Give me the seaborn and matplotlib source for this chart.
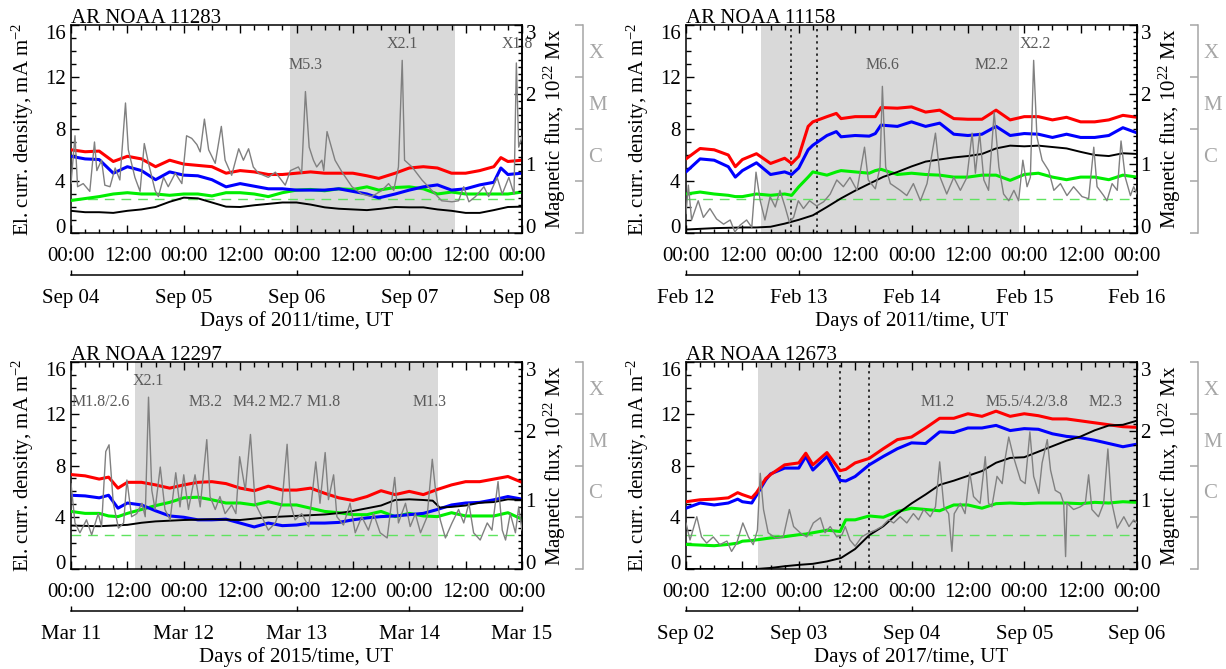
import matplotlib
matplotlib.use("Agg")
import matplotlib.pyplot as plt
import seaborn as sns
from matplotlib.ticker import MultipleLocator, FixedLocator, FixedFormatter, NullFormatter

# ---------------- data (hours from start of first day) ----------------
titles = ["AR NOAA 11283", "AR NOAA 11158", "AR NOAA 12297", "AR NOAA 12673"]
years = ["2011", "2011", "2015", "2017"]
day_labels = [["Sep 04", "Sep 05", "Sep 06", "Sep 07", "Sep 08"],
              ["Feb 12", "Feb 13", "Feb 14", "Feb 15", "Feb 16"],
              ["Mar 11", "Mar 12", "Mar 13", "Mar 14", "Mar 15"],
              ["Sep 02", "Sep 03", "Sep 04", "Sep 05", "Sep 06"]]
time_labels = ["00:00", "12:00", "00:00", "12:00", "00:00", "12:00", "00:00", "12:00", "00:00"]
threshold = 2.6  # mA m^-2

# --- panel 1: AR 11283 ---
t_cur1 = [0, 3, 6, 9, 12, 15, 18, 21, 24, 27, 30, 33, 36, 39, 42, 45, 48, 51, 54, 57, 60, 63, 65.5, 69, 72, 75, 78, 81, 84, 87, 90, 91.5, 93, 96]
red1 = [6.4, 6.25, 6.3, 5.5, 5.9, 5.7, 5.1, 5.6, 5.3, 5.2, 5.1, 4.6, 4.8, 4.7, 4.5, 4.5, 4.6, 4.7, 4.6, 4.6, 4.6, 4.4, 4.2, 4.6, 5.0, 5.1, 5.0, 4.6, 4.6, 4.8, 5.1, 5.8, 5.5, 5.6]
blue1 = [5.9, 5.7, 5.65, 4.6, 5.1, 4.8, 4.1, 4.7, 4.45, 4.4, 4.1, 3.55, 3.8, 3.6, 3.4, 3.4, 3.3, 3.3, 3.3, 3.4, 3.2, 3.0, 2.7, 3.0, 3.3, 3.55, 3.7, 3.3, 3.4, 3.7, 3.9, 5.0, 4.5, 4.6]
green1 = [2.5, 2.65, 2.8, 3.0, 3.1, 3.0, 3.0, 2.9, 3.0, 3.0, 2.85, 3.1, 3.1, 3.0, 2.8, 3.1, 3.3, 3.35, 3.25, 3.4, 3.35, 3.55, 3.3, 3.5, 3.55, 3.4, 3.0, 3.15, 3.0, 3.0, 3.0, 3.0, 3.0, 3.15]
t_flux1 = [0, 3, 6, 9, 12, 15, 18, 21, 24, 27, 30, 33, 36, 39, 42, 45, 48, 51, 54, 57, 60, 63, 66, 69, 72, 75, 78, 81, 84, 87, 90, 93, 96]
flux1 = [0.32, 0.30, 0.30, 0.29, 0.32, 0.34, 0.375, 0.45, 0.51, 0.50, 0.44, 0.38, 0.375, 0.40, 0.42, 0.44, 0.44, 0.41, 0.37, 0.35, 0.34, 0.33, 0.35, 0.375, 0.37, 0.37, 0.34, 0.32, 0.29, 0.29, 0.33, 0.375, 0.38]
t_goes1 = [0, 0.85, 1.4, 2.6, 4, 5, 5.5, 6.5, 7.2, 8.3, 9.4, 10.4, 11.6, 12.2, 13.6, 14.7, 15.6, 16.5, 17.9, 18.6, 19.7, 20.7, 22.2, 23.6, 24.6, 25.7, 26.8, 27.5, 28.4, 29.3, 30.7, 32, 32.8, 34.2, 35.7, 36.7, 37.8, 38.8, 39.9, 42, 43.5, 45.6, 46.7, 48.4, 49.1, 49.9, 50.7, 51.6, 52.3, 53.4, 53.8, 54.5, 56.2, 57.7, 59.8, 61.9, 64, 66.2, 67.6, 68.7, 69.7, 70.5, 71, 72.6, 74.7, 76.8, 78.9, 81.1, 82.5, 83.6, 84.7, 86.1, 87.9, 88.9, 90.7, 91.8, 93.2, 94.3, 94.8, 95.3, 96]
goes1 = [-6.05, -5.13, -6.11, -6.05, -6.2, -5.25, -5.8, -5.6, -6.08, -6.11, -5.75, -5.98, -4.5, -5.4, -5.93, -6.2, -5.28, -5.66, -6.18, -6.3, -5.93, -6.11, -5.85, -6.05, -5.13, -5.18, -5.3, -5.44, -4.81, -5.4, -5.66, -4.95, -5.6, -5.89, -5.38, -5.6, -5.38, -5.73, -5.85, -5.93, -5.83, -6.08, -5.8, -5.73, -5.85, -4.28, -5.35, -5.6, -5.73, -5.6, -5.8, -5.05, -5.6, -5.83, -6.11, -6.25, -6.3, -6.18, -6.05, -6.18, -5.73, -3.68, -5.6, -5.73, -5.98, -6.18, -6.38, -6.4, -6.38, -6.11, -6.4, -6.3, -6.11, -6.3, -5.93, -6.25, -5.93, -6.25, -3.73, -5.35, -5.15]
shade1 = [46.7, 81.8]
dotted1 = []
flare_names1 = ["M5.3", "X2.1", "X1.8"]
flare_times1 = [50.0, 70.6, 94.9]
flare_rows1 = [0, 1, 1]

# --- panel 2: AR 11158 ---
t_cur2 = [0, 3, 6, 9, 10.5, 12, 15, 18, 21, 22.5, 24, 26, 27, 30, 32, 33, 36, 39, 40.3, 41.5, 45, 48, 51, 54, 57, 60, 63, 66, 69, 72, 75, 78, 81, 84, 87, 90, 93, 96]
red2 = [5.7, 6.5, 6.4, 6.0, 5.1, 5.65, 6.1, 5.35, 5.75, 5.35, 5.9, 8.2, 8.55, 8.95, 9.2, 8.8, 8.95, 8.95, 8.95, 9.65, 9.6, 9.7, 9.3, 9.45, 8.8, 8.75, 8.75, 9.45, 8.7, 8.95, 8.95, 8.7, 8.9, 8.55, 8.55, 8.7, 9.05, 8.9]
blue2 = [4.7, 5.7, 5.6, 5.1, 4.3, 4.8, 5.4, 4.5, 4.7, 4.5, 5.0, 6.4, 6.75, 7.5, 7.8, 7.4, 7.5, 7.45, 7.65, 8.3, 8.2, 8.55, 8.2, 8.45, 7.6, 7.5, 7.6, 8.2, 7.5, 7.65, 7.6, 7.35, 7.6, 7.35, 7.35, 7.5, 8.1, 7.7]
green2 = [3.0, 3.15, 3.0, 2.9, 2.8, 2.8, 3.0, 2.9, 3.0, 2.9, 3.55, 4.3, 4.7, 4.45, 4.7, 4.8, 4.7, 4.6, 4.8, 4.9, 4.5, 4.6, 4.5, 4.45, 4.3, 4.3, 4.45, 4.45, 4.05, 4.5, 4.6, 4.3, 4.1, 4.3, 4.3, 4.1, 4.45, 4.3]
t_flux2 = [0, 6, 12, 15, 18, 21, 24, 27, 30, 33, 36, 39, 42, 45, 48, 51, 54, 57, 60, 63, 66, 69, 72, 75, 78, 81, 84, 87, 90, 93, 96]
flux2 = [0.05, 0.07, 0.08, 0.08, 0.09, 0.135, 0.19, 0.255, 0.375, 0.50, 0.61, 0.71, 0.81, 0.88, 0.96, 1.03, 1.06, 1.09, 1.11, 1.14, 1.22, 1.26, 1.25, 1.26, 1.24, 1.22, 1.17, 1.125, 1.11, 1.15, 1.14]
t_goes2 = [0, 0.5, 1.2, 2.6, 3.7, 5.1, 6.5, 8, 9.4, 10.4, 11.5, 12.9, 14, 14.9, 15.8, 16.8, 17.9, 19, 20, 21.1, 22, 22.9, 23.9, 25, 26.3, 27.8, 29.3, 30.7, 32.1, 33.5, 34.9, 36.4, 38, 38.8, 40.3, 41.3, 41.8, 42.5, 43.5, 45.6, 47, 48.4, 49.9, 51.3, 53.1, 54.1, 55.5, 57, 58.4, 59.8, 60.9, 61.6, 62.5, 63.4, 64.4, 65.6, 66.6, 67.6, 68.7, 69.8, 70.8, 71.7, 72.6, 73.3, 74, 74.7, 75.8, 77.2, 78.3, 79.7, 81.1, 82.5, 84.3, 85.7, 86.8, 87.5, 88.9, 89.6, 90.7, 91.8, 92.6, 93.5, 94.6, 95.3, 96]
goes2 = [-6.63, -6.08, -6.75, -6.38, -6.7, -6.53, -6.73, -6.83, -6.75, -6.98, -6.85, -6.75, -6.89, -5.83, -6.38, -6.75, -6.3, -6.5, -6.18, -6.5, -6.79, -6.7, -6.38, -6.53, -6.38, -6.48, -6.4, -6.25, -5.98, -6.11, -5.93, -6.18, -5.35, -5.98, -6.15, -5.73, -4.18, -5.73, -6.05, -6.18, -6.28, -6.05, -6.38, -6.05, -5.08, -5.93, -6.25, -5.93, -6.18, -5.93, -5.08, -5.85, -5.08, -5.98, -6.18, -4.68, -5.73, -6.25, -6.38, -6.18, -6.38, -5.6, -6.11, -5.93, -3.68, -5.15, -5.6, -5.8, -6.18, -6.05, -6.28, -6.11, -6.3, -6.34, -5.35, -6.11, -6.28, -6.38, -6.05, -6.18, -5.23, -5.93, -6.28, -6.11, -6.25]
shade2 = [16.0, 70.8]
dotted2 = [22.3, 27.8]
flare_names2 = ["M6.6", "M2.2", "X2.2"]
flare_times2 = [41.8, 65.1, 74.4]
flare_rows2 = [0, 0, 1]

# --- panel 3: AR 12297 ---
t_cur3 = [0, 3, 6, 8, 10, 12, 15, 18, 21, 24, 27, 30, 33, 36, 39, 42, 45, 48, 51, 54, 57, 60, 63, 66, 69, 72, 75, 78, 81, 84, 87, 90, 93, 96]
red3 = [7.3, 7.2, 6.95, 7.1, 6.25, 6.7, 6.7, 6.5, 6.25, 6.5, 6.7, 6.75, 6.6, 6.25, 6.05, 6.4, 6.1, 6.1, 6.25, 5.85, 5.5, 5.3, 5.6, 6.05, 5.75, 6.0, 5.75, 6.15, 6.5, 6.75, 6.75, 6.95, 7.15, 6.7]
blue3 = [5.7, 5.65, 5.5, 5.7, 4.7, 5.1, 4.95, 4.5, 4.1, 4.0, 3.8, 3.8, 3.85, 3.55, 3.25, 3.55, 3.35, 3.4, 3.55, 3.55, 3.6, 3.8, 3.95, 4.05, 4.1, 4.2, 4.3, 4.6, 4.95, 5.1, 5.15, 5.35, 5.6, 5.4]
green3 = [4.45, 4.3, 4.3, 4.1, 4.05, 4.3, 4.6, 4.9, 5.15, 5.5, 5.55, 5.35, 5.1, 5.1, 4.95, 5.2, 4.95, 4.95, 4.7, 4.45, 4.35, 4.2, 4.2, 4.45, 4.05, 4.3, 4.1, 4.05, 4.35, 4.1, 4.1, 4.1, 4.35, 3.85]
t_flux3 = [0, 6, 12, 15, 18, 24, 30, 36, 42, 48, 54, 57, 60, 63, 66, 69, 72, 75, 77, 78.5, 81, 84, 87, 90, 93, 96]
flux3 = [0.63, 0.62, 0.64, 0.67, 0.69, 0.71, 0.72, 0.71, 0.75, 0.77, 0.79, 0.81, 0.84, 0.88, 0.92, 1.0, 1.01, 1.0, 0.99, 0.89, 0.90, 0.92, 0.96, 0.97, 1.01, 1.0]
t_goes3 = [0, 0.85, 1.9, 3.3, 4.4, 5.8, 6.5, 7.4, 8.1, 9, 10.1, 11.2, 11.9, 12.9, 14, 15.1, 15.8, 16.5, 17.2, 17.9, 19, 20, 21.1, 22.3, 23.2, 24, 25, 26.4, 27.5, 28.9, 29.6, 30.7, 31.7, 32.8, 34.2, 35.1, 35.9, 37.1, 38.2, 39.2, 40.6, 42, 43.5, 44.9, 46, 46.7, 47.7, 49.1, 50.6, 52.1, 53, 54.1, 54.8, 55.9, 56.6, 58, 59.4, 60.5, 61.9, 63.3, 64.4, 65.8, 67.3, 68.9, 69.7, 71.2, 72.2, 73.3, 74.4, 75.8, 76.9, 77.6, 78.6, 79.7, 81.1, 82.5, 83.6, 84.7, 85.7, 87.1, 88.6, 89.6, 90.9, 91.8, 92.5, 93.5, 94.6, 95.3, 96]
goes3 = [-5.35, -6.11, -6.3, -6.05, -6.34, -5.93, -6.18, -4.73, -4.6, -5.73, -6.21, -6.11, -5.28, -5.99, -5.93, -5.73, -5.99, -3.68, -5.48, -5.85, -5.03, -5.85, -6.05, -5.14, -5.8, -5.18, -5.85, -5.18, -5.8, -4.5, -5.6, -5.85, -5.6, -5.93, -5.76, -5.93, -4.83, -5.48, -4.4, -5.73, -5.99, -6.25, -6.11, -5.73, -4.59, -5.73, -6.05, -5.93, -6.18, -4.93, -5.73, -4.75, -5.66, -5.18, -5.99, -6.15, -5.73, -6.3, -5.99, -6.25, -5.93, -6.3, -6.4, -5.23, -6.11, -5.73, -6.18, -5.93, -6.3, -5.99, -4.88, -5.48, -6.05, -6.4, -6.11, -5.85, -6.11, -5.73, -6.3, -6.44, -6.11, -6.25, -5.31, -6.25, -6.44, -5.93, -6.3, -5.8, -6.25]
shade3 = [13.6, 78.1]
dotted3 = []
flare_names3 = ["M1.8/2.6", "X2.1", "M3.2", "M4.2", "M2.7", "M1.8", "M1.3"]
flare_times3 = [6.3, 16.5, 28.6, 38.1, 45.7, 53.8, 76.4]
flare_rows3 = [0, 1, 0, 0, 0, 0, 0]

# --- panel 4: AR 12673 ---
t_cur4 = [0, 3, 6, 9, 11, 12, 14, 15, 17, 18, 21, 24, 25.5, 27, 30, 32.8, 34, 36, 39, 42, 45, 48, 51, 54, 57, 60, 63, 66, 69, 72, 75, 78, 81, 84, 87, 90, 93, 96]
red4 = [5.2, 5.35, 5.4, 5.5, 5.9, 5.75, 5.5, 5.9, 7.0, 7.3, 8.05, 8.2, 8.95, 8.05, 9.0, 7.6, 7.7, 8.2, 8.55, 9.3, 10.0, 10.2, 10.9, 11.65, 11.65, 12.0, 11.8, 12.2, 11.8, 12.0, 11.85, 11.6, 11.6, 11.45, 11.3, 11.15, 11.0, 10.95]
blue4 = [4.7, 5.1, 4.95, 5.1, 5.4, 5.2, 5.1, 5.7, 6.9, 7.35, 7.8, 7.8, 8.7, 7.65, 8.7, 6.85, 6.8, 7.15, 8.05, 8.7, 9.3, 9.75, 9.7, 10.6, 10.55, 10.9, 10.9, 11.1, 10.7, 10.85, 10.8, 10.45, 10.25, 10.15, 9.95, 9.7, 9.45, 9.65]
green4 = [1.9, 1.85, 1.8, 1.9, 2.0, 2.15, 2.2, 2.25, 2.35, 2.4, 2.5, 2.65, 2.7, 2.8, 3.0, 2.9, 3.8, 3.8, 4.1, 4.0, 4.45, 4.7, 4.6, 4.5, 4.95, 4.95, 4.7, 5.05, 5.1, 5.05, 5.1, 5.1, 5.1, 5.05, 5.15, 5.1, 5.2, 5.15]
t_flux4 = [0, 12, 15, 18, 21, 24, 27, 30, 33, 36, 39, 42, 45, 48, 51, 54, 57, 60, 63, 66, 69, 72, 75, 78, 81, 84, 87, 90, 93, 96]
flux4 = [0, 0, 0, 0.015, 0.04, 0.06, 0.075, 0.11, 0.16, 0.29, 0.49, 0.62, 0.80, 0.95, 1.08, 1.22, 1.28, 1.35, 1.42, 1.54, 1.61, 1.62, 1.70, 1.78, 1.86, 1.92, 2.01, 2.08, 2.09, 2.15]
t_goes4 = [0, 0.85, 2.3, 3.3, 4.4, 5.8, 7.2, 8.7, 9.7, 10.8, 12.1, 13.3, 14.3, 15.2, 15.8, 16.5, 17.5, 19, 20.7, 22, 22.9, 24.3, 25.7, 27.1, 28.6, 29.6, 30.7, 32.1, 33.2, 33.9, 34.9, 36, 37.4, 38.9, 40.3, 41.7, 43.1, 44.2, 45.6, 47, 48.4, 49.5, 50.6, 52, 53.1, 54, 54.9, 55.9, 56.6, 57.1, 58.4, 59.4, 60.4, 61.2, 62.6, 63.7, 64.4, 65.1, 66.2, 67.3, 68, 68.7, 69.7, 71.2, 72.2, 73.2, 74, 75.1, 75.8, 76.9, 77.6, 78.6, 79.7, 80.4, 80.8, 81.1, 82.5, 83.9, 85, 85.7, 86.4, 87.8, 88.9, 89.8, 90.5, 91.8, 93.2, 94.3, 95.3, 96]
goes4 = [-6.11, -6.44, -5.99, -6.38, -6.5, -6.38, -6.53, -6.46, -6.66, -6.5, -6.11, -6.38, -6.53, -6.25, -5.15, -5.85, -6.3, -6.4, -6.38, -5.85, -6.18, -6.3, -6.38, -6.11, -6.01, -6.3, -6.18, -6.38, -6.34, -6.18, -6.44, -6.56, -6.38, -6.3, -6.25, -6.18, -6.05, -6.11, -5.99, -6.11, -5.93, -6.05, -5.85, -5.99, -5.8, -4.93, -5.8, -5.93, -6.66, -5.93, -5.73, -5.93, -5.13, -5.6, -5.73, -4.83, -5.73, -5.8, -5.21, -5.35, -4.83, -4.45, -4.83, -5.28, -5.35, -4.35, -5.21, -5.54, -4.95, -4.5, -5.09, -5.48, -5.54, -5.73, -6.76, -5.73, -5.85, -5.8, -5.73, -5.18, -5.85, -5.99, -5.73, -4.68, -5.66, -6.21, -5.99, -6.18, -6.05, -6.11]
shade4 = [15.4, 96.0]
dotted4 = [32.8, 38.9]
flare_names4 = ["M1.2", "M5.5/4.2/3.8", "M2.3"]
flare_times4 = [53.6, 72.5, 89.3]
flare_rows4 = [0, 0, 0]

# ---------------- styling ----------------
sns.set_theme(style="ticks", rc={
    "axes.edgecolor": "black", "xtick.color": "black", "ytick.color": "black",
    "text.color": "black", "axes.labelcolor": "black", "axes.linewidth": 1.1,
    "xtick.major.width": 1.0, "ytick.major.width": 1.0,
    "xtick.minor.width": 1.0, "ytick.minor.width": 1.0,
})
plt.rcParams["font.family"] = ["Liberation Serif", "DejaVu Serif"]
plt.rcParams["mathtext.fontset"] = "custom"
plt.rcParams["mathtext.rm"] = "Liberation Serif"
plt.rcParams["mathtext.it"] = "Liberation Serif:italic"

PX = 72.0 / 100.0
FS = 15
SHADE = "#d9d9d9"
GRAY = "#808080"
FLARE_COL = "#5a5a5a"
CLASS_COL = "#a6a6a6"
ROW_Y = [12.9, 14.5]

W, H = 1226, 669
fig = plt.figure(figsize=(W / 100, H / 100), dpi=100)

rects = [(71, 25, 451, 208), (686, 25, 451, 208), (71, 362, 451, 207), (686, 362, 451, 207)]

panels = [
    (t_cur1, red1, blue1, green1, t_flux1, flux1, t_goes1, goes1, shade1, dotted1, flare_names1, flare_times1, flare_rows1),
    (t_cur2, red2, blue2, green2, t_flux2, flux2, t_goes2, goes2, shade2, dotted2, flare_names2, flare_times2, flare_rows2),
    (t_cur3, red3, blue3, green3, t_flux3, flux3, t_goes3, goes3, shade3, dotted3, flare_names3, flare_times3, flare_rows3),
    (t_cur4, red4, blue4, green4, t_flux4, flux4, t_goes4, goes4, shade4, dotted4, flare_names4, flare_times4, flare_rows4),
]

for i, (rect, pdata) in enumerate(zip(rects, panels)):
    (t_cur, red, blue, green, t_flux, flux, t_goes, goes, shade, dotted, fnames, ftimes, frows) = pdata
    x0, y0, w, h = rect
    ax = fig.add_axes([x0 / W, 1 - (y0 + h) / H, w / W, h / H])

    ax.axvspan(shade[0], shade[1], color=SHADE, lw=0, zorder=0)
    for d in dotted:
        ax.axvline(d, color="black", lw=1.1, ls=(0, (1.5, 2.5)), zorder=1)
    ax.axhline(threshold, color="#5fe35f", lw=1.0, dashes=(7, 5), zorder=2)
    sns.lineplot(x=t_cur, y=green, ax=ax, color="#00ee00", lw=2.2, estimator=None, sort=False, zorder=3)
    sns.lineplot(x=t_cur, y=blue, ax=ax, color="#0000ff", lw=2.2, estimator=None, sort=False, zorder=4)
    sns.lineplot(x=t_cur, y=red, ax=ax, color="#ff0000", lw=2.2, estimator=None, sort=False, zorder=5)
    ax.set_xlim(0, 96)
    ax.set_ylim(0, 16)

    for name, tt, rr in zip(fnames, ftimes, frows):
        ax.text(tt, ROW_Y[rr], name, ha="center", va="center", fontsize=11.5,
                color=FLARE_COL, clip_on=False, zorder=6)

    # left axis
    ax.set_yticks([0, 4, 8, 12, 16])
    ax.set_yticklabels(["0", "4", "8", "12", "16"])
    ax.yaxis.set_minor_locator(MultipleLocator(1))
    ax.tick_params(axis="y", which="both", direction="in", left=True, right=False,
                   labelsize=FS, pad=4)
    ax.tick_params(axis="y", which="major", length=8 * PX)
    ax.tick_params(axis="y", which="minor", length=4.5 * PX)
    ylab = ax.yaxis.get_major_ticks()
    ylab[0].label1.set_va("baseline")
    ylab[-1].label1.set_va("top")
    ax.set_ylabel("El. curr. density, mA m$\\mathregular{^{-2}}$", fontsize=FS)
    ax.yaxis.set_label_coords(-35 / w, 0.5)

    # time axis
    ax.set_xticks(list(range(0, 97, 12)))
    ax.set_xticklabels(time_labels)
    ax.xaxis.set_minor_locator(MultipleLocator(3))
    ax.tick_params(axis="x", which="both", direction="in", top=True, bottom=True,
                   labelsize=FS, pad=10)
    ax.tick_params(axis="x", which="major", length=8 * PX)
    ax.tick_params(axis="x", which="minor", length=4.5 * PX)
    ax.set_xlabel("")
    for s in ax.spines.values():
        s.set_linewidth(1.1)

    # date axis
    sec = ax.secondary_xaxis(-42 / h)
    sec.set_xticks([0, 24, 48, 72, 96])
    sec.set_xticklabels(day_labels[i])
    sec.tick_params(axis="x", direction="in", length=5 * PX, width=1.0, labelsize=FS, pad=10)
    sec.spines["bottom"].set_linewidth(1.1)
    ax.text(0.5, -0.425, "Days of %s/time, UT" % years[i], transform=ax.transAxes,
            ha="center", va="center", fontsize=FS)

    ax.text(0.0, 1.012, titles[i], transform=ax.transAxes, ha="left", va="baseline",
            fontsize=FS)

    # magnetic flux axis
    axf = ax.twinx()
    sns.lineplot(x=t_flux, y=flux, ax=axf, color="black", lw=1.4, estimator=None, sort=False)
    axf.set_ylim(0, 3)
    axf.set_yticks([0, 1, 2, 3])
    axf.set_yticklabels(["0", "1", "2", "3"])
    axf.yaxis.set_minor_locator(MultipleLocator(0.1))
    axf.tick_params(axis="y", which="both", direction="in", labelsize=FS, pad=2.5)
    axf.tick_params(axis="y", which="major", length=8 * PX)
    axf.tick_params(axis="y", which="minor", length=4.5 * PX)
    fl = axf.yaxis.get_major_ticks()
    fl[0].label2.set_va("baseline")
    fl[-1].label2.set_va("top")
    axf.set_ylabel("Magnetic flux, 10$\\mathregular{^{22}}$ Mx", fontsize=FS)
    axf.yaxis.set_label_coords(1.0 + 20 / w, 0.5)
    for s in ["left", "top", "bottom"]:
        axf.spines[s].set_visible(False)
    axf.spines["right"].set_linewidth(1.1)

    # GOES X-ray class axis
    axg = ax.twinx()
    sns.lineplot(x=t_goes, y=goes, ax=axg, color=GRAY, lw=1.0, estimator=None, sort=False)
    axg.set_ylim(-7, -3)
    axg.set_ylabel("")
    for s in ["left", "top", "bottom"]:
        axg.spines[s].set_visible(False)
    axg.spines["right"].set_position(("outward", 61 * PX))
    axg.spines["right"].set_color(CLASS_COL)
    axg.spines["right"].set_linewidth(1.1)
    axg.yaxis.set_major_locator(FixedLocator([-7, -6, -5, -4, -3]))
    axg.yaxis.set_major_formatter(NullFormatter())
    axg.yaxis.set_minor_locator(FixedLocator([-5.5, -4.5, -3.5]))
    axg.yaxis.set_minor_formatter(FixedFormatter(["C", "M", "X"]))
    axg.tick_params(axis="y", which="major", direction="in", length=8 * PX,
                    color=CLASS_COL, width=1.1)
    axg.tick_params(axis="y", which="minor", length=0, pad=4, labelsize=FS,
                    labelcolor=CLASS_COL)

fig.savefig("out.png", dpi=100, facecolor="white")
